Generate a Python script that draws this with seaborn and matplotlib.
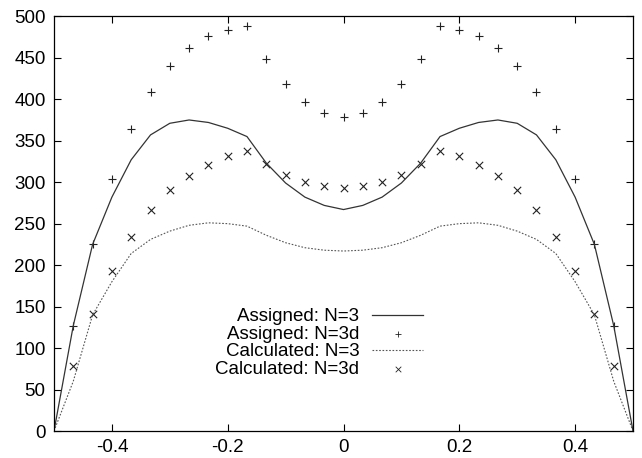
import numpy as np
import pandas as pd
import seaborn as sns
import matplotlib
matplotlib.use("Agg")
import matplotlib.pyplot as plt
from matplotlib.collections import PathCollection

# x positions (step 1/30)
x_line = [-0.5, -0.4667, -0.4333, -0.4, -0.3667, -0.3333, -0.3, -0.2667, -0.2333, -0.2,
          -0.1667, -0.1333, -0.1, -0.0667, -0.0333, 0.0, 0.0333, 0.0667, 0.1, 0.1333,
          0.1667, 0.2, 0.2333, 0.2667, 0.3, 0.3333, 0.3667, 0.4, 0.4333, 0.4667, 0.5]
x_pts = x_line[1:-1]

assigned_n3 = [0, 127, 225, 282, 327, 357, 371, 375, 372, 365, 355, 323, 299, 282, 272, 267,
               272, 282, 299, 323, 355, 365, 372, 375, 371, 357, 327, 282, 225, 127, 0]
calculated_n3 = [0, 60, 140, 180, 214, 231, 241, 248, 251, 250, 247, 236, 227, 221, 218, 217,
                 218, 221, 227, 236, 247, 250, 251, 248, 241, 231, 214, 180, 140, 60, 0]
assigned_n3d = [126, 226, 304, 364, 409, 440, 462, 476, 484, 488, 449, 418, 397, 384, 379,
                384, 397, 418, 449, 488, 484, 476, 462, 440, 409, 364, 304, 226, 126]
calculated_n3d = [78, 141, 193, 234, 266, 290, 308, 321, 331, 337, 322, 309, 300, 295, 293,
                  295, 300, 309, 322, 337, 331, 321, 308, 290, 266, 234, 193, 141, 78]

lines = pd.DataFrame({"x": x_line, "a": assigned_n3, "c": calculated_n3})
pts = pd.DataFrame({"x": x_pts, "a": assigned_n3d, "c": calculated_n3d})

plt.rcParams["font.family"] = ["Liberation Sans", "DejaVu Sans"]
plt.rcParams["font.size"] = 13.5

fig = plt.figure(figsize=(6.42, 4.58), dpi=100)
ax = fig.add_axes([54 / 642, 27 / 458, 579 / 642, 414.7 / 458])

sns.lineplot(data=lines, x="x", y="a", ax=ax, color="#333333", lw=0.9,
             estimator=None, sort=False, label="Assigned: N=3")
sns.scatterplot(data=pts, x="x", y="a", ax=ax, marker="+", s=36, color="#222222",
                linewidth=0.8, label="Assigned: N=3d")
sns.lineplot(data=lines, x="x", y="c", ax=ax, color="#555555", lw=0.8,
             estimator=None, sort=False, label="Calculated: N=3")
ax.lines[-1].set_linestyle((0, (1.5, 1.5)))
sns.scatterplot(data=pts, x="x", y="c", ax=ax, marker="x", s=28, color="#222222",
                linewidth=0.8, label="Calculated: N=3d")

ax.set_xlim(-0.5, 0.5)
ax.set_ylim(0, 500)
ax.set_xticks([-0.4, -0.2, 0, 0.2, 0.4])
ax.set_xticklabels(["-0.4", "-0.2", "0", "0.2", "0.4"])
ax.set_yticks(range(0, 501, 50))
ax.set_xlabel("")
ax.set_ylabel("")
ax.tick_params(direction="in", length=5, width=0.8, top=True, right=True,
               labeltop=False, labelright=False, pad=6)
for sp in ax.spines.values():
    sp.set_linewidth(0.9)

leg = ax.legend(loc="center", bbox_to_anchor=(0.458, 0.212), frameon=False,
                markerfirst=False, handlelength=2.7, handletextpad=0.7,
                labelspacing=0.02, fontsize=13.5, borderpad=0)
for h in leg.legend_handles:
    if isinstance(h, PathCollection):
        h.set_sizes([16])
        h.set_linewidth(0.6)

fig.savefig("out.png", dpi=100)
